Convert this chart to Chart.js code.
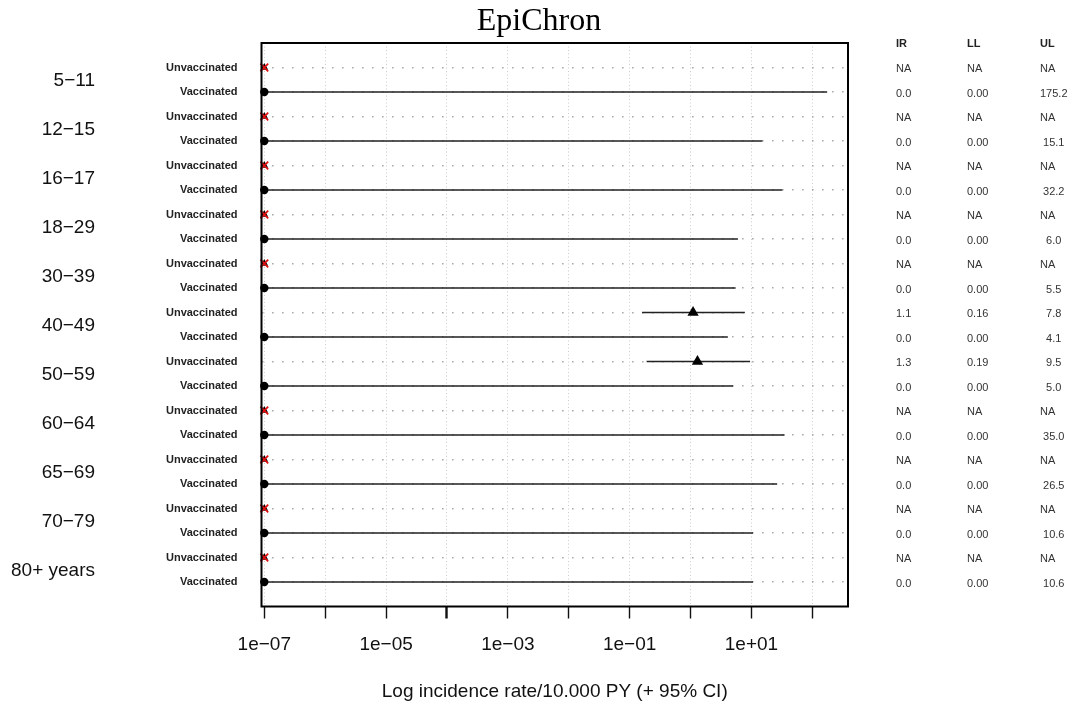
<!DOCTYPE html>
<html>
<head>
<meta charset="utf-8">
<title>EpiChron</title>
<script src="https://cdn.jsdelivr.net/npm/chart.js@4/dist/chart.umd.min.js"></script>
<style>
  body { margin: 0; background: #fff; }
  #wrap { width: 1070px; height: 707px; }
</style>
</head>
<body>
<div id="wrap"><canvas id="forestChart" width="1070" height="707"></canvas></div>
<script>
// age groups, each with an Unvaccinated and a Vaccinated row
const ageGroups = ['5−11', '12−15', '16−17', '18−29', '30−39', '40−49', '50−59', '60−64', '65−69', '70−79', '80+ years'];
const rowStatus = ['Unvaccinated', 'Vaccinated'];

// incidence rate /10.000 PY and 95% CI, null = NA
const irUnvacc = [null, null, null, null, null, 1.1, 1.3, null, null, null, null];
const llUnvacc = [null, null, null, null, null, 0.16, 0.19, null, null, null, null];
const ulUnvacc = [null, null, null, null, null, 7.8, 9.5, null, null, null, null];
const irVacc = [0, 0, 0, 0, 0, 0, 0, 0, 0, 0, 0];
const llVacc = [0, 0, 0, 0, 0, 0, 0, 0, 0, 0, 0];
const ulVacc = [175.2, 15.1, 32.2, 6.0, 5.5, 4.1, 5.0, 35.0, 26.5, 10.6, 10.6];

// log axis: zeros and NA sit on the floor value
const LOG_FLOOR = 1e-7;
const xTickExps = [-7, -6, -5, -4, -3, -2, -1, 0, 1, 2];
const xLabelExps = [-7, -5, -3, -1, 1];
const tableHeader = ['IR', 'LL', 'UL'];

const FONT = '"Liberation Sans", Arial, sans-serif';

function floorVal(v) { return (v === null || v <= LOG_FLOOR) ? LOG_FLOOR : v; }
function expLabel(e) {
  const a = Math.abs(e);
  return '1e' + (e < 0 ? '−' : '+') + (a < 10 ? '0' + a : a);
}
function pad5(s) { while (s.length < 5) s = ' ' + s; return s; }
function fmt(v, d, padded) {
  if (v === null) return 'NA';
  const s = v.toFixed(d);
  return padded ? pad5(s) : s;
}

// rows: 1,3,5.. unvaccinated, 2,4,6.. vaccinated
const ciPoints = [];
const vaccPoints = [];
const unvaccPoints = [];
const naPoints = [];
const tableRows = [];
for (let g = 0; g < ageGroups.length; g++) {
  const yU = 2 * g + 1, yV = 2 * g + 2;
  if (irUnvacc[g] !== null) {
    ciPoints.push({ x: floorVal(llUnvacc[g]), y: yU }, { x: ulUnvacc[g], y: yU }, { x: null, y: null });
    unvaccPoints.push({ x: irUnvacc[g], y: yU });
  } else {
    naPoints.push({ x: LOG_FLOOR, y: yU });
  }
  ciPoints.push({ x: floorVal(llVacc[g]), y: yV }, { x: ulVacc[g], y: yV }, { x: null, y: null });
  vaccPoints.push({ x: floorVal(irVacc[g]), y: yV });
  tableRows.push({ y: yU, vals: [fmt(irUnvacc[g], 1), fmt(llUnvacc[g], 2), fmt(ulUnvacc[g], 1, true)] });
  tableRows.push({ y: yV, vals: [fmt(irVacc[g], 1), fmt(llVacc[g], 2), fmt(ulVacc[g], 1, true)] });
}

// box, title, age group labels and the IR/LL/UL table
const frameAndText = {
  id: 'frameAndText',
  afterDatasetsDraw(chart) {
    const a = chart.chartArea, ctx = chart.ctx;
    ctx.save();
    ctx.strokeStyle = '#000';
    ctx.lineWidth = 2;
    ctx.strokeRect(a.left, a.top, a.right - a.left, a.bottom - a.top);
    ctx.restore();
  },
  afterDraw(chart) {
    const ctx = chart.ctx, yScale = chart.scales.y;
    ctx.save();
    ctx.fillStyle = '#000';
    ctx.font = '32px "Liberation Serif", "Times New Roman", serif';
    ctx.textAlign = 'center';
    ctx.textBaseline = 'alphabetic';
    ctx.fillText('EpiChron', 539, 29.5);

    ctx.fillStyle = '#111';
    ctx.font = '19px ' + FONT;
    ctx.textAlign = 'right';
    ctx.textBaseline = 'middle';
    ageGroups.forEach((lab, g) => {
      const yMid = (yScale.getPixelForValue(2 * g + 1) + yScale.getPixelForValue(2 * g + 2)) / 2;
      ctx.fillText(lab, 95, yMid + 1);
    });

    const colX = [896, 967, 1040];
    ctx.textAlign = 'left';
    ctx.fillStyle = '#222';
    ctx.font = 'bold 11px ' + FONT;
    tableHeader.forEach((h, i) => ctx.fillText(h, colX[i], 43.5));
    ctx.fillStyle = '#333';
    ctx.font = '11px ' + FONT;
    tableRows.forEach(r => {
      const py = yScale.getPixelForValue(r.y) + 1.5;
      r.vals.forEach((v, i) => ctx.fillText(v, colX[i], py));
    });
    ctx.restore();
  }
};

new Chart(document.getElementById('forestChart'), {
  type: 'scatter',
  data: {
    datasets: [
      {
        label: '95% CI',
        data: ciPoints,
        showLine: true,
        spanGaps: false,
        borderColor: '#222',
        borderWidth: 1.5,
        pointRadius: 0,
        order: 4
      },
      {
        label: 'Vaccinated',
        data: vaccPoints,
        pointStyle: 'circle',
        pointRadius: 4.2,
        backgroundColor: '#000',
        borderColor: '#000',
        borderWidth: 0,
        order: 3
      },
      {
        label: 'Unvaccinated',
        data: unvaccPoints,
        pointStyle: 'triangle',
        pointRadius: 6.5,
        backgroundColor: '#000',
        borderColor: '#000',
        borderWidth: 0,
        order: 2
      },
      {
        label: 'NA base',
        data: naPoints,
        pointStyle: 'triangle',
        pointRadius: 4.5,
        backgroundColor: '#000',
        borderColor: '#000',
        borderWidth: 0,
        order: 1
      },
      {
        label: 'NA',
        data: naPoints,
        pointStyle: 'crossRot',
        pointRadius: 5.5,
        borderColor: '#e01010',
        borderWidth: 1.8,
        order: 0
      }
    ]
  },
  options: {
    responsive: false,
    animation: false,
    clip: false,
    layout: { padding: { top: 43, right: 222, bottom: 0, left: 0 } },
    plugins: {
      legend: { display: false },
      tooltip: { enabled: false }
    },
    scales: {
      x: {
        type: 'logarithmic',
        position: 'bottom',
        min: Math.pow(10, -7.046),
        max: Math.pow(10, 2.586),
        afterBuildTicks: (scale) => {
          scale.ticks = xTickExps.map(e => ({ value: Math.pow(10, e) }));
        },
        afterFit: (scale) => { scale.height = 100.5; },
        ticks: {
          autoSkip: false,
          maxRotation: 0,
          padding: 15,
          color: '#111',
          font: { family: FONT, size: 19 },
          callback: (v) => {
            const e = Math.round(Math.log10(v));
            return xLabelExps.includes(e) ? expLabel(e) : '';
          }
        },
        grid: {
          color: '#cccccc',
          lineWidth: 1,
          drawTicks: true,
          tickLength: 12,
          tickColor: '#111',
          tickWidth: (ctx) => (ctx.tick && Math.round(Math.log10(ctx.tick.value)) === -4) ? 2.4 : 1.4
        },
        border: { display: false, dash: [1, 2.5] },
        title: {
          display: true,
          text: 'Log incidence rate/10.000 PY (+ 95% CI)',
          color: '#111',
          font: { family: FONT, size: 19 },
          padding: { top: 0, bottom: 4 }
        }
      },
      y: {
        type: 'linear',
        reverse: true,
        min: 0,
        max: 23,
        afterBuildTicks: (scale) => {
          const t = [];
          for (let i = 1; i <= ageGroups.length * 2; i++) t.push({ value: i });
          scale.ticks = t;
        },
        afterFit: (scale) => { scale.width = 261.5; },
        ticks: {
          autoSkip: false,
          padding: 24,
          color: '#222',
          font: { family: FONT, size: 11, weight: 'bold' },
          callback: (v) => rowStatus[(v - 1) % 2]
        },
        grid: {
          color: '#ababab',
          lineWidth: 1.6,
          drawTicks: false
        },
        border: { display: false, dash: [1.6, 8.4] }
      }
    }
  },
  plugins: [frameAndText]
});
</script>
</body>
</html>
